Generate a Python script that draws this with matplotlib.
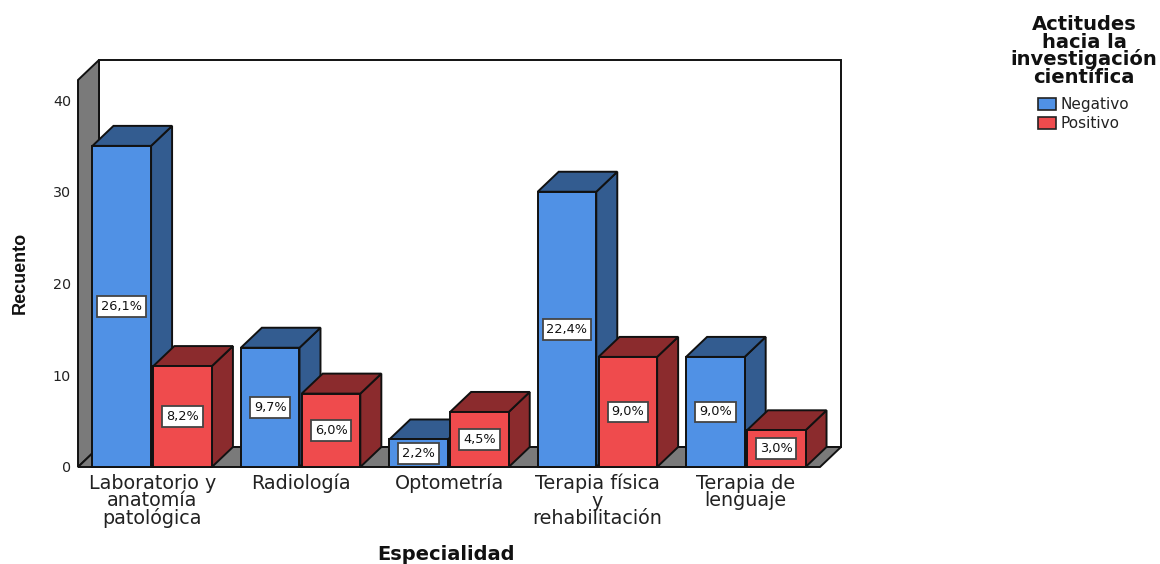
import numpy as np
import matplotlib
matplotlib.use('Agg')
import matplotlib.pyplot as plt
from matplotlib.patches import Polygon, Patch

especialidades = ['Laboratorio y\nanatomía\npatológica', 'Radiología', 'Optometría',
                  'Terapia física\ny\nrehabilitación', 'Terapia de\nlenguaje']
negativo = [35, 13, 3, 30, 12]
positivo = [11, 8, 6, 12, 4]
pct_negativo = ['26,1%', '9,7%', '2,2%', '22,4%', '9,0%']
pct_positivo = ['8,2%', '6,0%', '4,5%', '9,0%', '3,0%']
y_ticks = [0, 10, 20, 30, 40]

AZUL = ('#5091E5', '#335C90')
ROJO = ('#EF4B4D', '#8B2B2D')
GRIS = '#7A7A7A'
W, H = 1160, 564

fig = plt.figure(figsize=(W / 100, H / 100), dpi=100, facecolor='white')
# the axes is the front plane of the 3D box
ax = fig.add_axes([78 / W, 1 - 467 / H, 742 / W, 387 / H])
ax.set_xlim(-0.5, 4.5)
ax.set_ylim(0, 42.18)
ax.patch.set_visible(False)
for s in ax.spines.values():
    s.set_visible(False)

# depth of the box in data units
dx = 21 / 148.4
dy = 20 / 9.175
x0, x1 = ax.get_xlim()
y0, y1 = ax.get_ylim()


def cara(puntos, color, z):
    ax.add_patch(Polygon(puntos, closed=True, facecolor=color, edgecolor='#111111',
                         linewidth=1.4, clip_on=False, zorder=z, joinstyle='miter'))


# back wall, left wall, floor
cara([(x0 + dx, y0 + dy), (x1 + dx, y0 + dy), (x1 + dx, y1 + dy), (x0 + dx, y1 + dy)], 'white', 1)
cara([(x0, y0), (x0 + dx, y0 + dy), (x0 + dx, y1 + dy), (x0, y1)], GRIS, 2)
cara([(x0, y0), (x0 + dx, y0 + dy), (x1 + dx, y0 + dy), (x1, y0)], GRIS, 2)


def barra(xc, valor, colores, texto, z):
    ancho = 0.395
    a, b = xc - ancho / 2, xc + ancho / 2
    cara([(b, 0), (b + dx, dy), (b + dx, valor + dy), (b, valor)], colores[1], z)
    cara([(a, valor), (a + dx, valor + dy), (b + dx, valor + dy), (b, valor)], colores[1], z)
    ax.bar(xc, valor, width=ancho, color=colores[0], edgecolor='#111111', linewidth=1.4,
           zorder=z, clip_on=False)
    ax.text(xc, valor / 2, texto, ha='center', va='center', fontsize=9.3, color='#111111',
            zorder=z + 0.5,
            bbox=dict(boxstyle='square,pad=0.3', facecolor='white', edgecolor='#444444', linewidth=1.3))


# left to right so each bar covers the side of the previous one
pos = np.arange(len(especialidades))
z = 3
for i in pos:
    barra(i - 0.205, negativo[i], AZUL, pct_negativo[i], z)
    barra(i + 0.205, positivo[i], ROJO, pct_positivo[i], z + 1)
    z += 2

ax.set_xticks(pos)
ax.set_xticklabels(especialidades, fontsize=13.8, color='#222222', linespacing=0.88)
ax.set_yticks(y_ticks)
ax.set_yticklabels([str(v) for v in y_ticks], fontsize=10.3, color='#222222')
ax.tick_params(axis='x', length=0, pad=5)
ax.tick_params(axis='y', length=0, pad=5)

fig.text(20 / W, 1 - 273 / H, 'Recuento', rotation=90, ha='center', va='center',
         fontsize=13, fontweight='bold', family='Liberation Sans', color='#111111')
fig.text(446 / W, 1 - 555 / H, 'Especialidad', ha='center', va='center',
         fontsize=14, fontweight='bold', color='#111111')

fig.text(1084 / W, 1 - 51 / H, 'Actitudes\nhacia la\ninvestigación\ncientífica', ha='center', va='center',
         fontsize=14, fontweight='bold', color='#111111', linespacing=0.87)
handles = [Patch(facecolor=AZUL[0], edgecolor='#222222', linewidth=1.2, label='Negativo'),
           Patch(facecolor=ROJO[0], edgecolor='#222222', linewidth=1.2, label='Positivo')]
fig.legend(handles=handles, loc='upper left', bbox_to_anchor=(1038 / W, 1 - 97 / H), frameon=False,
           fontsize=11, borderpad=0, borderaxespad=0, handlelength=1.15, handleheight=0.8,
           handletextpad=0.3, labelspacing=0.26, labelcolor='#222222')

fig.savefig('out.png', dpi=100, facecolor='white')
